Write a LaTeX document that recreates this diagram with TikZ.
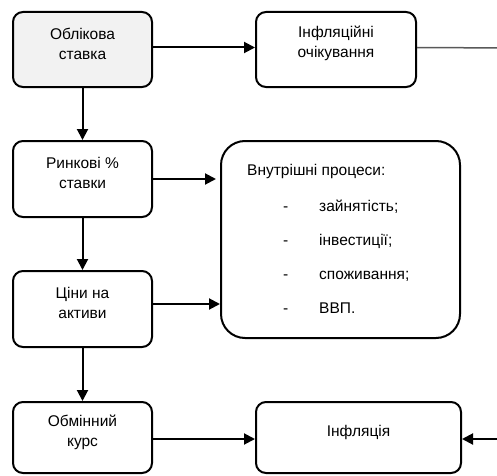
\documentclass[tikz,border=0pt]{standalone}
\usepackage{fontspec}
\setmainfont{Liberation Sans}
\usetikzlibrary{arrows.meta,calc}
\begin{document}
\begin{tikzpicture}[x=1pt,y=1pt,
  box/.style={draw=black, line width=2pt, rounded corners=10pt, inner sep=0pt},
  bigbox/.style={draw=black, line width=2pt, rounded corners=24pt, inner sep=0pt},
  lbl/.style={align=center, inner sep=0pt, font=\fontsize{15.5}{20}\selectfont},
  txt/.style={anchor=base west, inner sep=0pt, font=\fontsize{15.5}{18}\selectfont},
  arr/.style={line width=2pt, -{Triangle[length=11pt,width=11pt]}},
  gline/.style={line width=1.5pt, draw=black!65}
]
\useasboundingbox (0,0) rectangle (497,475);
\clip (0,0) rectangle (497,475);
% boxes
\node[box, fill=black!5, minimum width=139pt, minimum height=75pt] (b1) at (82.5,425.5) {};
\node[box, minimum width=160pt, minimum height=75pt] (b2) at (336,425.5) {};
\node[box, minimum width=139pt, minimum height=76pt] (b3) at (82.5,296) {};
\node[box, minimum width=139pt, minimum height=76pt] (b4) at (82.5,166) {};
\node[box, minimum width=139pt, minimum height=71pt] (b5) at (82.5,37.5) {};
\node[box, minimum width=205pt, minimum height=71pt] (b6) at (358.5,37.5) {};
\node[bigbox, minimum width=239pt, minimum height=197pt] (big) at (340.5,235.5) {};
% labels
\node[lbl] (t1) at ([yshift=6pt]b1.center) {Облікова\\ставка};
\node[lbl] (t2) at ([yshift=6pt]b2.center) {Інфляційні\\очікування};
\node[lbl] (t3) at ([yshift=6pt]b3.center) {Ринкові \%\\ставки};
\node[lbl] (t4) at ([yshift=6pt]b4.center) {Ціни на\\активи};
\node[lbl] (t5) at ([yshift=5pt]b5.center) {Обмінний\\курс};
\node[lbl] (t6) at ([yshift=5pt]b6.center) {Інфляція};
% list in big box
\node[txt] (h) at (247,300) {Внутрішні процеси:};
\node[txt] (d1) at (283,264) {-};
\node[txt] (d2) at (283,230) {-};
\node[txt] (d3) at (283,196) {-};
\node[txt] (d4) at (283,162) {-};
\node[txt] (i1) at (319,264) {зайнятість;};
\node[txt] (i2) at (319,230) {інвестиції;};
\node[txt] (i3) at (319,196) {споживання;};
\node[txt] (i4) at (319,162) {ВВП.};
% connectors
\coordinate (r1) at (510,427);
\coordinate (r2) at (510,36);
\draw[arr] ([yshift=2pt]b1.east) -- ([yshift=2pt]b2.west);
\draw[gline] ([yshift=2pt]b2.east) -- (r1);
\draw[gline] (r1) -- (r2);
\draw[arr] (r2) -- ([yshift=-1.5pt]b6.east);
\draw[arr] (b1.south) -- (b3.north);
\draw[arr] (b3.south) -- (b4.north);
\draw[arr] (b4.south) -- (b5.north);
\draw[arr] (b3.east) -- ([xshift=-4pt]b3.east -| big.west);
\draw[arr] ([yshift=5pt]b4.east) -- ([yshift=5pt]b4.east -| big.west);
\draw[arr] ([yshift=-1.5pt]b5.east) -- ([yshift=-1.5pt]b5.east -| b6.west);
\end{tikzpicture}
\end{document}
